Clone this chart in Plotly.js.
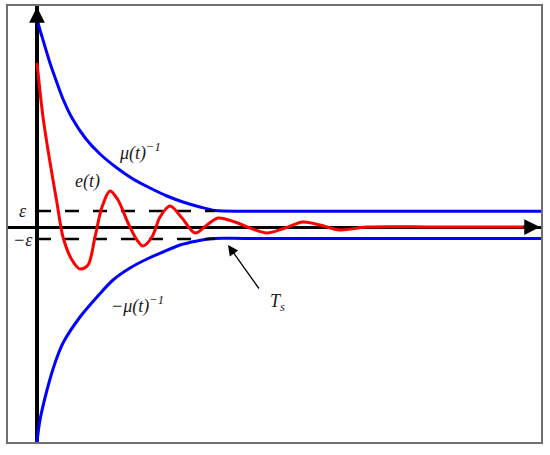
<!DOCTYPE html>
<html>
<head>
<meta charset="utf-8">
<script src="https://cdn.plot.ly/plotly-3.0.1.min.js"></script>
<style>
  html, body { margin: 0; padding: 0; background: #fff; }
  #plot { width: 550px; height: 455px; }
</style>
</head>
<body>
<div id="plot"></div>
<script>
// Upper bound mu(t)^-1 (t, value)
var tUpper = [0, 0.06, 0.12, 0.26, 0.40, 0.52, 0.70, 0.98, 1.26, 1.60, 1.92, 2.26, 2.60, 2.92, 3.26, 3.56, 4.2, 10.08];
var yUpper = [2.08, 1.97, 1.87, 1.64, 1.44, 1.28, 1.09, 0.88, 0.73, 0.59, 0.48, 0.39, 0.31, 0.25, 0.20, 0.165, 0.158, 0.158];

// Lower bound -mu(t)^-1
var tLower = [0, 0.06, 0.20, 0.36, 0.52, 0.86, 1.20, 1.52, 1.86, 2.20, 2.52, 2.86, 3.20, 3.52, 4.2, 10.08];
var yLower = [-2.15, -1.93, -1.63, -1.36, -1.16, -0.90, -0.70, -0.53, -0.41, -0.32, -0.25, -0.18, -0.14, -0.115, -0.115, -0.115];

// Tracking error e(t)
var tErr = [0, 0.12, 0.22, 0.32, 0.40, 0.52, 0.70, 0.86, 1.02, 1.16, 1.30, 1.46, 1.62, 1.82, 2.00, 2.12, 2.30, 2.46, 2.66,
            2.90, 3.16, 3.40, 3.62, 3.96, 4.26, 4.60, 4.96, 5.32, 5.66, 6.06, 6.60, 8.0, 9.86];
var yErr = [1.64, 1.10, 0.77, 0.47, 0.24, -0.10, -0.33, -0.42, -0.38, -0.10, 0.20, 0.36, 0.27, 0.04, -0.13, -0.19, -0.10, 0.10, 0.21,
            0.09, -0.06, 0.02, 0.09, 0.05, -0.01, -0.06, -0.01, 0.05, 0.02, -0.03, 0.00, 0.00, 0.00];

// Error band +/- epsilon up to the settling time
var epsT = [0, 3.56];
var epsilon = 0.16;
var epsilonLow = -0.12;

// Settling time T_s (where the arrow points)
var settleT = 3.82;
var settleY = -0.18;

var serif = 'Liberation Serif';

var traces = [
    { x: tUpper, y: yUpper, mode: 'lines', line: { color: '#0000ff', width: 3, shape: 'spline', smoothing: 0.8 } },
    { x: tLower, y: yLower, mode: 'lines', line: { color: '#0000ff', width: 3, shape: 'spline', smoothing: 0.8 } },
    { x: epsT, y: epsT.map(function () { return epsilon; }), mode: 'lines', line: { color: '#000', width: 2.5, dash: '14px,14px' } },
    { x: epsT, y: epsT.map(function () { return epsilonLow; }), mode: 'lines', line: { color: '#000', width: 2.5, dash: '14px,14px' } },
    { x: tErr, y: yErr, mode: 'lines', line: { color: '#ff0000', width: 3, shape: 'spline', smoothing: 0.9 } }
];

function label(x, y, text) {
    return { x: x, y: y, xref: 'x', yref: 'y', text: text, showarrow: false,
             font: { family: serif, size: 18, color: '#1a1a1a', style: 'italic' } };
}

var layout = {
    width: 550,
    height: 455,
    margin: { l: 8, r: 9, t: 6, b: 13 },
    paper_bgcolor: '#fff',
    plot_bgcolor: '#fff',
    showlegend: false,
    xaxis: {
        range: [-0.58, 10.08], showgrid: false, showticklabels: false, ticks: '',
        zeroline: true, zerolinecolor: '#000', zerolinewidth: 4,
        showline: true, mirror: true, linecolor: '#707070', linewidth: 1.5
    },
    yaxis: {
        range: [-2.15, 2.21], showgrid: false, showticklabels: false, ticks: '',
        zeroline: true, zerolinecolor: '#000', zerolinewidth: 3,
        showline: true, mirror: true, linecolor: '#707070', linewidth: 1.5
    },
    annotations: [
        // arrow heads of the two axes
        { x: 0, y: 2.20, xref: 'x', yref: 'y', text: '', showarrow: true, ax: 0, ay: 18,
          arrowhead: 2, arrowsize: 0.9, arrowwidth: 3.5, arrowcolor: '#000', standoff: 0 },
        { x: 10.06, y: 0, xref: 'x', yref: 'y', text: '', showarrow: true, ax: -18, ay: 0,
          arrowhead: 2, arrowsize: 1.05, arrowwidth: 3, arrowcolor: '#000', standoff: 0 },
        // arrow to the settling time
        { x: settleT, y: settleY, xref: 'x', yref: 'y', text: '', showarrow: true, ax: 32, ay: 45,
          arrowhead: 2, arrowsize: 1.6, arrowwidth: 1.3, arrowcolor: '#000', standoff: 0 },
        label(2.06, 0.75, 'μ(t)<sup>−1</sup>'),
        label(1.0, 0.46, 'e(t)'),
        label(2.0, -0.78, '−μ(t)<sup>−1</sup>'),
        label(4.8, -0.75, 'T<sub>s</sub>'),
        label(-0.28, 0.16, 'ε'),
        label(-0.28, -0.13, '−ε')
    ]
};

Plotly.newPlot('plot', traces, layout, { displayModeBar: false });
</script>
</body>
</html>
